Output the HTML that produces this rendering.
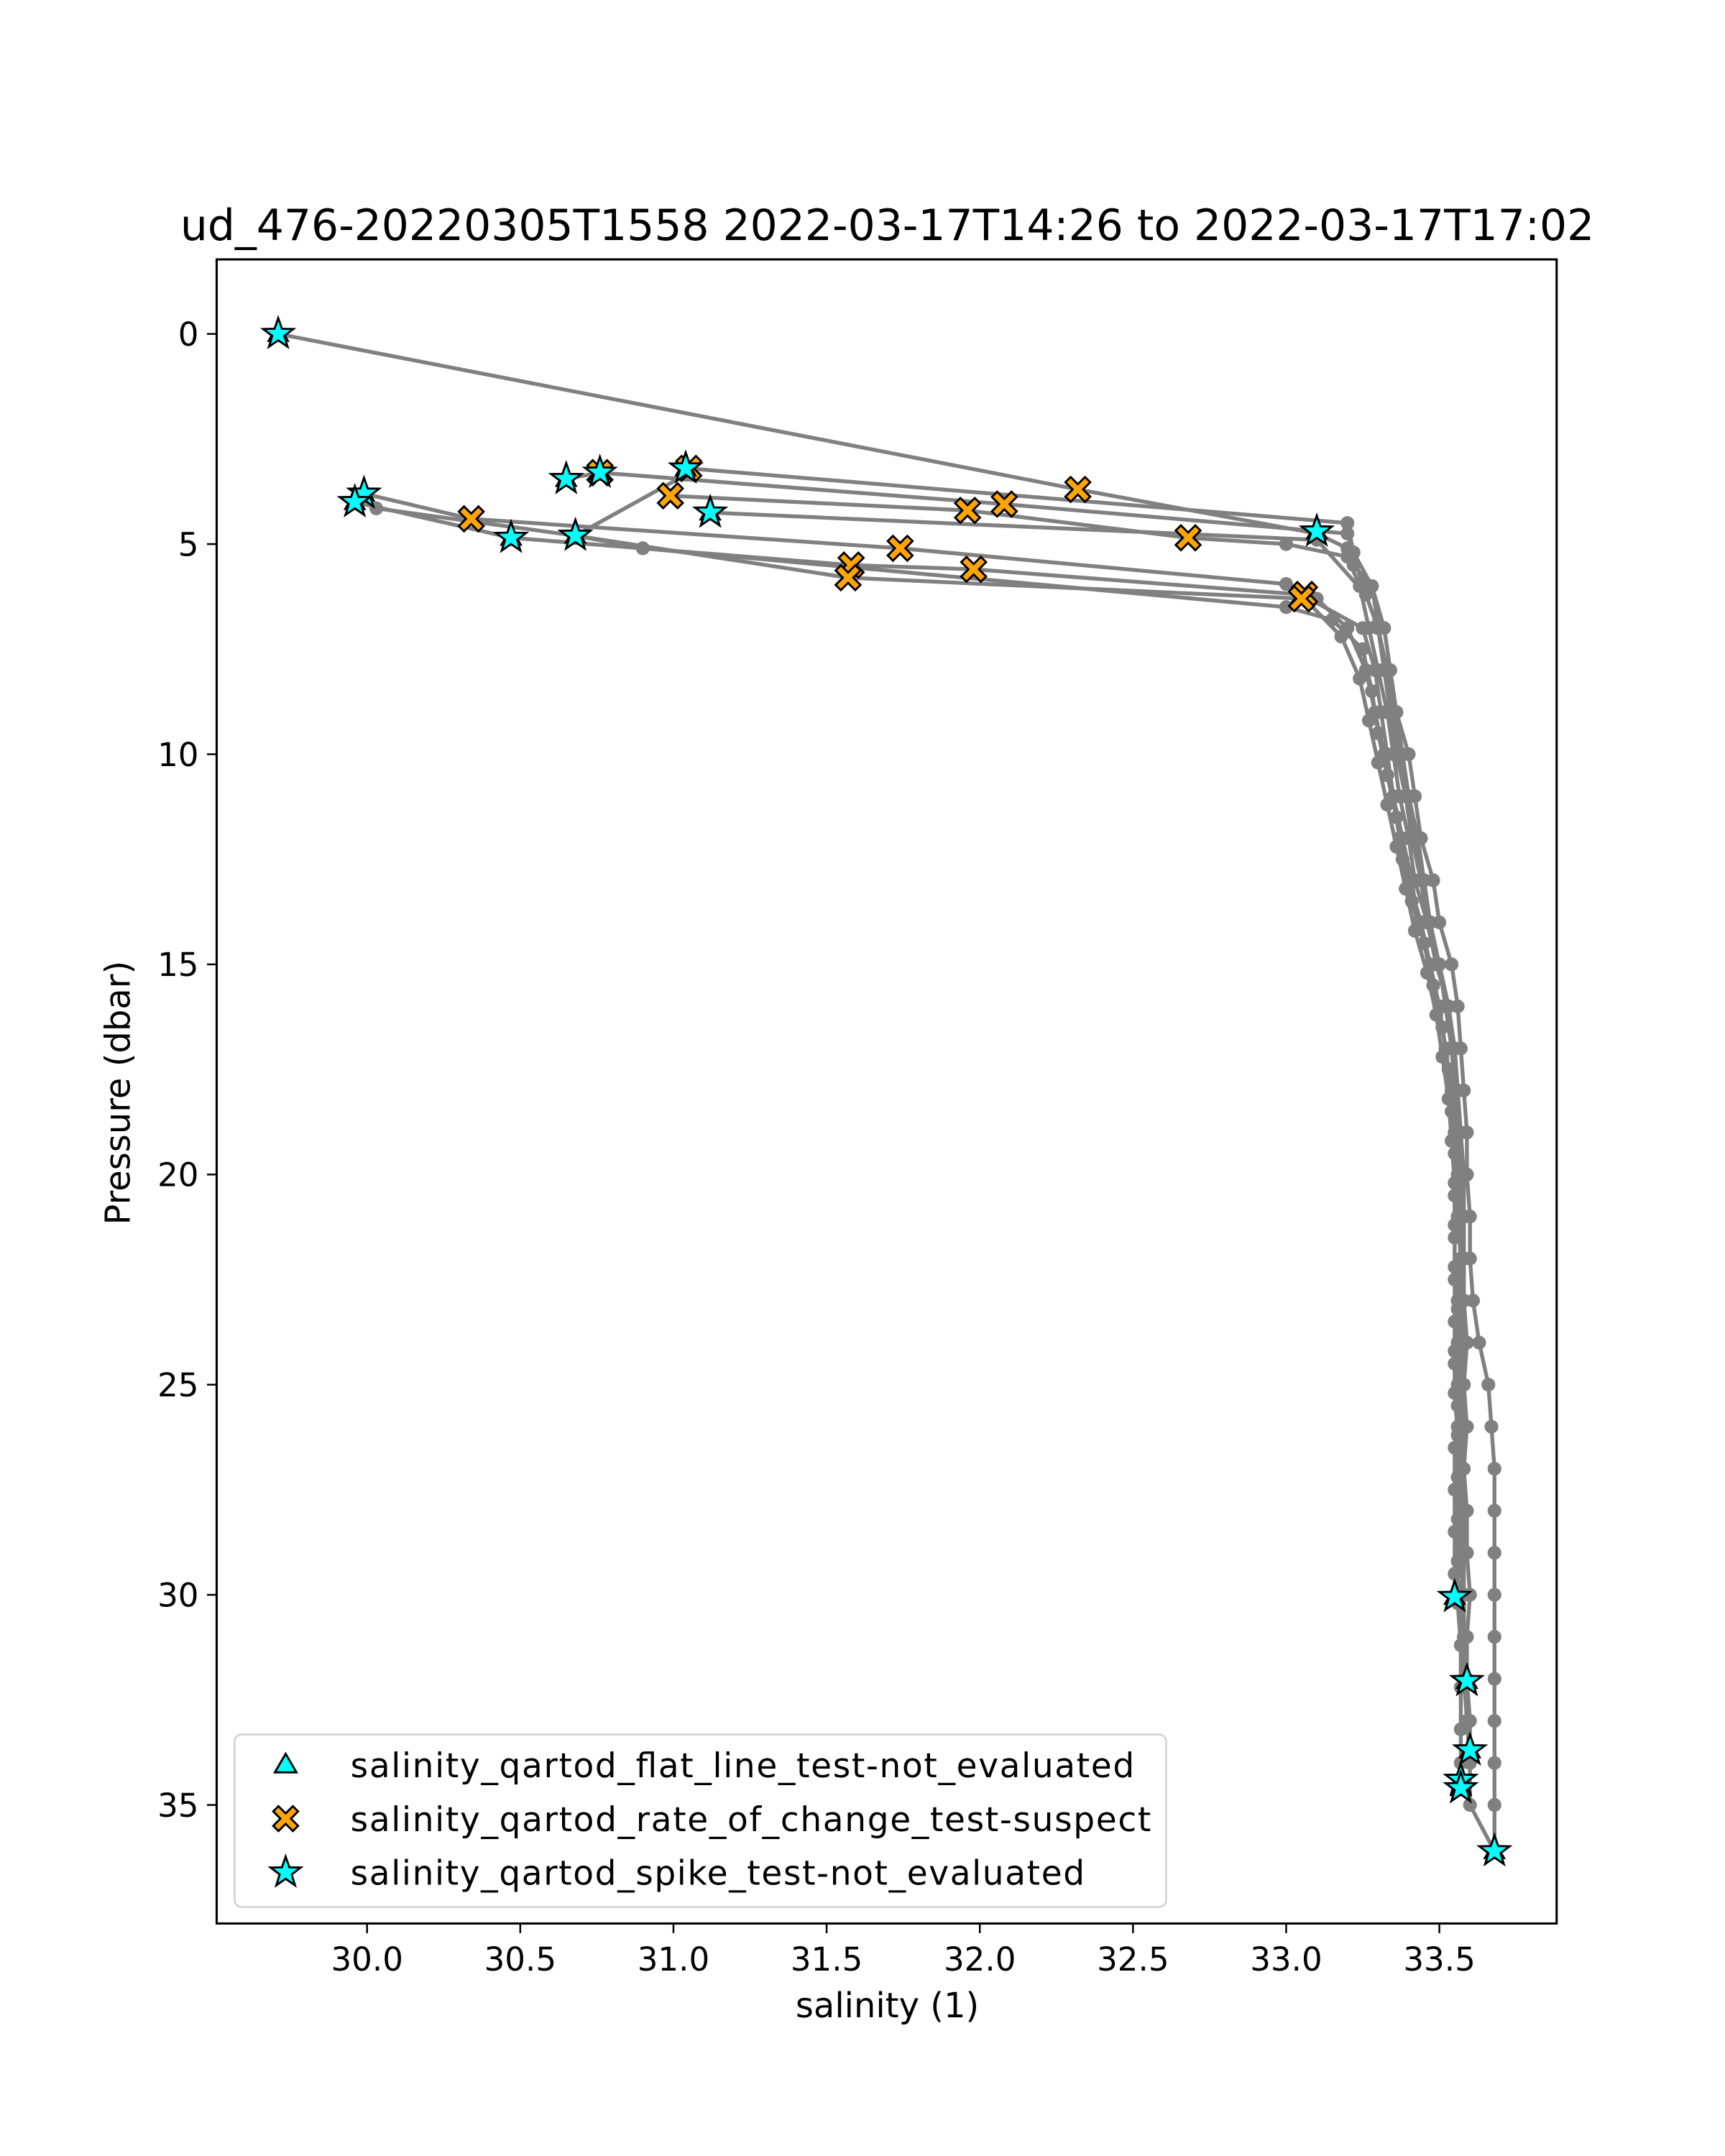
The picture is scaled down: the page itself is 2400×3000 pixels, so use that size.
<!DOCTYPE html>
<html><head><meta charset="utf-8"><style>
html,body{margin:0;padding:0;background:#fff}
svg{display:block}
text{font-family:"DejaVu Sans","Liberation Sans",sans-serif;fill:#000}
</style></head><body>
<svg id="chart" xmlns="http://www.w3.org/2000/svg" width="2400" height="3000" viewBox="0 0 1250 1562.5">
<rect x="0" y="0" width="1250" height="1562.5" fill="#fff"/>
<text x="643" y="174" font-size="31.2" text-anchor="middle">ud_476-20220305T1558 2022-03-17T14:26 to 2022-03-17T17:02</text>
<g id="plot"></g>
<g id="xaxis"></g>
<g id="yaxis"></g>
<rect x="157" y="188" width="971" height="1206" fill="none" stroke="#000" stroke-width="1.6"/>
<text x="643" y="1462" font-size="25" text-anchor="middle">salinity (1)</text>
<text transform="translate(94,792) rotate(-90)" font-size="25" text-anchor="middle">Pressure (dbar)</text>
<g id="legend"></g>
</svg>
<script>
const xTicks=[30.0,30.5,31.0,31.5,32.0,32.5,33.0,33.5];
const yTicks=[0,5,10,15,20,25,30,35];
const cast1=[[29.71,0],[32.32,3.7],[33.1,4.75],[33.2,5.1],[33.22,5.5],[33.28,6],[33.3,6.9],[33.32,8],[33.36,9],[33.4,10],[33.42,11],[33.44,12],[33.48,13],[33.5,14],[33.54,15],[33.56,16],[33.57,17],[33.58,18],[33.59,19],[33.59,20],[33.6,21],[33.6,22],[33.61,23],[33.63,24],[33.66,25],[33.67,26],[33.68,27],[33.68,28],[33.68,29],[33.68,30],[33.68,31],[33.68,32],[33.68,33],[33.68,34],[33.68,35],[33.68,36.1]];
const cast2=[[33.68,36.1],[33.6,35],[33.6,34],[33.59,33],[33.58,32],[33.58,31],[33.57,30],[33.58,29],[33.57,28],[33.57,27],[33.58,26],[33.57,25],[33.58,24],[33.57,23],[33.58,22],[33.57,21],[33.57,20],[33.56,19],[33.55,18],[33.54,17],[33.52,16],[33.5,15],[33.47,14],[33.45,13],[33.43,12],[33.4,11],[33.38,10],[33.36,9],[33.34,8],[33.32,7],[33.28,6],[33.22,5.2],[33.2,4.5],[31.05,3.2]];
const cast3=[[31.04,3.35],[30.68,4.8],[30.9,5.1],[33.0,6.5],[33.15,6.8],[33.25,7.5],[33.28,8.5],[33.3,9.5],[33.33,10.5],[33.36,11.5],[33.38,12.5],[33.41,13.5],[33.45,14.5],[33.48,15.5],[33.51,16.5],[33.53,17.5],[33.54,18.5],[33.55,19.5],[33.55,20.5],[33.55,21.5],[33.55,22.5],[33.55,23.5],[33.55,24.5],[33.56,25.5],[33.55,26.5],[33.55,27.5],[33.55,28.5],[33.55,29.5],[33.55,30.05]];
const cast4=[[33.55,30.05],[33.57,29],[33.58,28],[33.57,27],[33.58,26],[33.58,25],[33.59,24],[33.58,23],[33.58,22],[33.58,21],[33.57,20],[33.57,19],[33.56,18],[33.55,17],[33.53,16],[33.5,15],[33.46,14],[33.44,13],[33.41,12],[33.39,11],[33.36,10],[33.34,9],[33.32,8],[33.3,7],[33.25,6],[33.2,4.75],[32.08,4.05],[30.76,3.3],[30.65,3.45]];
const cast5=[[30.99,3.85],[31.96,4.2],[32.68,4.85],[33.0,5.0],[33.2,5.3],[33.24,6],[33.27,7],[33.3,8],[33.33,9],[33.35,10],[33.37,11],[33.4,12],[33.42,13],[33.46,14],[33.5,15],[33.53,16],[33.55,17],[33.56,18],[33.56,19],[33.57,20],[33.57,21],[33.57,22],[33.57,23],[33.57,24],[33.57,25],[33.57,26],[33.57,27],[33.58,28],[33.58,29],[33.58,30],[33.58,31],[33.59,32.05]];
const cast6=[[33.59,32.05],[33.59,31],[33.6,30],[33.59,29],[33.59,28],[33.58,27],[33.59,26],[33.58,25],[33.59,24],[33.58,23],[33.58,22],[33.58,21],[33.58,20],[33.57,19],[33.56,18],[33.55,17],[33.53,16],[33.49,15],[33.46,14],[33.44,13],[33.42,12],[33.39,11],[33.37,10],[33.35,9],[33.33,8],[33.3,7],[33.26,6.2],[33.1,4.9],[31.12,4.25]];
const cast7=[[29.99,3.8],[30.34,4.4],[31.74,5.1],[33.0,5.95],[33.1,6.3],[33.2,7],[33.26,8],[33.29,9],[33.32,10],[33.35,11],[33.37,12],[33.4,13],[33.44,14],[33.47,15],[33.5,16],[33.52,17],[33.54,18],[33.55,19],[33.56,20],[33.56,21],[33.57,22],[33.56,23],[33.56,24],[33.57,25],[33.56,26],[33.57,27],[33.57,28],[33.57,29],[33.58,30],[33.58,31],[33.59,32],[33.6,33],[33.6,33.7]];
const cast8=[[33.6,33.7],[33.59,33],[33.59,32],[33.58,31],[33.58,30],[33.57,29],[33.58,28],[33.57,27],[33.57,26],[33.56,25],[33.57,24],[33.56,23],[33.57,22],[33.56,21],[33.56,20],[33.55,19],[33.54,18],[33.52,17],[33.5,16],[33.47,15],[33.43,14],[33.41,13],[33.38,12],[33.35,11],[33.33,10],[33.31,9],[33.29,8],[33.25,7],[33.05,6.2],[31.98,5.6],[31.58,5.5],[30.47,4.85],[29.96,4.0]];
const cast9=[[30.03,4.15],[30.68,4.8],[31.57,5.8],[33.06,6.3],[33.18,7.2],[33.24,8.2],[33.27,9.2],[33.3,10.2],[33.33,11.2],[33.36,12.2],[33.39,13.2],[33.42,14.2],[33.46,15.2],[33.49,16.2],[33.51,17.2],[33.53,18.2],[33.54,19.2],[33.55,20.2],[33.55,21.2],[33.55,22.2],[33.56,23.2],[33.55,24.2],[33.55,25.2],[33.56,26.2],[33.56,27.2],[33.56,28.2],[33.56,29.2],[33.56,30.2],[33.57,31.2],[33.57,32.2],[33.57,33.2],[33.57,34],[33.57,34.6]];
const casts=[cast1,cast2,cast3,cast4,cast5,cast6,cast7,cast8,cast9];
const spikeSal=[29.71,29.99,29.96,30.65,30.76,31.04,31.12,30.47,30.68,33.1,33.55,33.59,33.6,33.57,33.57,33.68];
const spikePres=[0,3.8,4.0,3.45,3.3,3.2,4.25,4.85,4.8,4.7,30.05,32.05,33.7,34.4,34.6,36.1];
const flatSal=spikeSal;
const flatPres=spikePres;
const rocSal=[30.76,31.05,30.99,30.34,31.96,32.08,32.32,32.68,31.74,31.58,31.57,31.98,33.06,33.05];
const rocPres=[3.3,3.2,3.85,4.4,4.2,4.05,3.7,4.85,5.1,5.5,5.8,5.6,6.2,6.3];

const NS='http://www.w3.org/2000/svg';
const X=v=>266+(v-30)*222;
const Y=v=>242+v*30.46;
function mk(tag,attrs,parent){const e=document.createElementNS(NS,tag);for(const k in attrs)e.setAttribute(k,attrs[k]);parent.appendChild(e);return e;}
function starPath(cx,cy,r){let d='';for(let i=0;i<10;i++){const a=-Math.PI/2+i*Math.PI/5;const rr=i%2?r*0.4:r;d+=(i?'L':'M')+(cx+rr*Math.cos(a)).toFixed(2)+','+(cy+rr*Math.sin(a)).toFixed(2);}return d+'Z';}
function xPath(cx,cy,s){const w=s*0.42,L=s;const p=[[0,w],[L-w,L],[L,L-w],[w,0],[L,-L+w],[L-w,-L],[0,-w],[-L+w,-L],[-L,-L+w],[-w,0],[-L,L-w],[-L+w,L]];return 'M'+p.map(q=>(cx+q[0]).toFixed(2)+','+(cy+q[1]).toFixed(2)).join('L')+'Z';}
function triPath(cx,cy,r){return 'M'+cx+','+(cy-r)+'L'+(cx+r*0.87)+','+(cy+r*0.5)+'L'+(cx-r*0.87)+','+(cy+r*0.5)+'Z';}

const plot=document.getElementById('plot');
casts.forEach((c,ci)=>{
  const pl=mk('polyline',{points:c.map(p=>X(p[0])+','+Y(p[1])).join(' '),fill:'none',stroke:'#808080','stroke-width':2.8,'stroke-linejoin':'round'},plot);
  
  
  c.forEach(p=>{
    const d=mk('circle',{cx:X(p[0]),cy:Y(p[1]),r:5,fill:'#808080'},plot);
    
    
  });
});
rocSal.forEach((s,i)=>{
  const m=mk('path',{d:xPath(X(s),Y(rocPres[i]),9),fill:'orange',stroke:'#000','stroke-width':1.5},plot);
  
  
});
flatSal.forEach((s,i)=>{
  const m=mk('path',{d:triPath(X(s),Y(flatPres[i])+1,8),fill:'cyan',stroke:'#000','stroke-width':1.5},plot);
  
  
});
spikeSal.forEach((s,i)=>{
  const m=mk('path',{d:starPath(X(s),Y(spikePres[i]),11.5),fill:'cyan',stroke:'#000','stroke-width':1.5},plot);
  
  
});

const xa=document.getElementById('xaxis');
xTicks.forEach(t=>{
  const l=mk('line',{x1:X(t),x2:X(t),y1:1394,y2:1401,stroke:'#000','stroke-width':1.3},xa);
  
  
  const tx=mk('text',{x:X(t),y:1428,'font-size':23.5,'text-anchor':'middle'},xa);
  tx.textContent=t.toFixed(1);
  
  
});
const ya=document.getElementById('yaxis');
yTicks.forEach(t=>{
  const l=mk('line',{x1:150,x2:157,y1:Y(t),y2:Y(t),stroke:'#000','stroke-width':1.3},ya);
  
  
  const tx=mk('text',{x:144,y:Y(t)+8.5,'font-size':23.5,'text-anchor':'end'},ya);
  tx.textContent=String(t);
  
  
});

const lg=document.getElementById('legend');
const box=mk('rect',{x:170,y:1257,width:675,height:125,rx:5,fill:'#fff','fill-opacity':0.8,stroke:'#d0d0d0','stroke-width':1.3},lg);


const labels=['salinity_qartod_flat_line_test-not_evaluated','salinity_qartod_rate_of_change_test-suspect','salinity_qartod_spike_test-not_evaluated'];
labels.forEach((lab,i)=>{
  const cy=1279+i*39;
  let d=i===0?triPath(207,cy+1,9):i===1?xPath(207,cy,9):starPath(207,cy,11.5);
  const m=mk('path',{d:d,fill:i===1?'orange':'cyan',stroke:'#000','stroke-width':1.5},lg);
  
  
  const t=mk('text',{x:254,y:cy+9,'font-size':24.5},lg);
  t.setAttribute('textLength', i===0?568:i===1?580:532);
  t.textContent=lab;
  
  
});
</script>
</body></html>
